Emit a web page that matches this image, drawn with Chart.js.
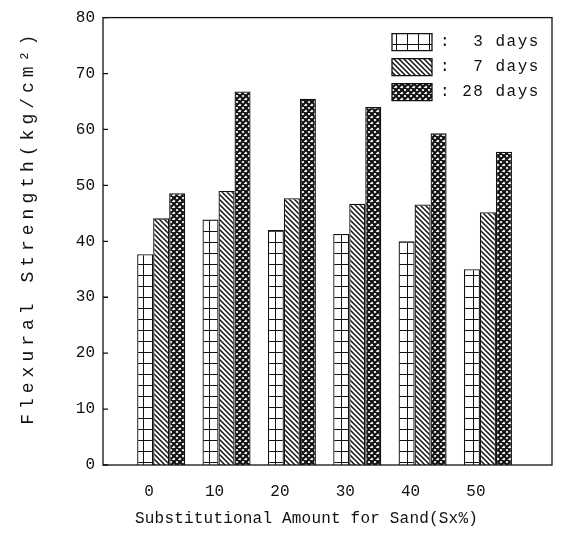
<!DOCTYPE html>
<html>
<head>
<meta charset="utf-8">
<script src="https://cdn.jsdelivr.net/npm/chart.js@4.4.1/dist/chart.umd.min.js"></script>
<style>
  html, body { margin: 0; padding: 0; background: #fff; }
  canvas { display: block; }
</style>
</head>
<body>
<canvas id="strength" width="566" height="535"></canvas>
<script>
// sand substitution (%) and flexural strength at each curing age (kg/cm2)
const amounts = [0, 10, 20, 30, 40, 50];
const days3 = [37.7, 43.9, 42.0, 41.3, 40.0, 35.0];
const days7 = [44.1, 49.0, 47.7, 46.7, 46.6, 45.2];
const days28 = [48.6, 66.8, 65.5, 64.0, 59.3, 56.0];
const ages = ['3 days', '7 days', '28 days'];
const legendText = [':  3 days', ':  7 days', ': 28 days'];

const MONO = "'Liberation Mono', 'DejaVu Sans Mono', monospace";
const INK = '#111';

const canvas = document.getElementById('strength');
const ctx = canvas.getContext('2d');

function makePattern(size, paint) {
  const c = document.createElement('canvas');
  c.width = size;
  c.height = size;
  const g = c.getContext('2d');
  g.fillStyle = '#fff';
  g.fillRect(0, 0, size, size);
  g.strokeStyle = INK;
  g.fillStyle = INK;
  paint(g, size);
  return ctx.createPattern(c, 'repeat');
}

// column of small boxes
const boxFill = makePattern(11, (g, s) => {
  g.fillRect(0, 0, s, 1);
  g.fillRect(0, 0, 1, s);
});

// "\" hatching
const hatchFill = makePattern(5, (g, s) => {
  g.lineWidth = 1.5;
  g.beginPath();
  g.moveTo(-1, -1); g.lineTo(s + 1, s + 1);
  g.moveTo(-1, s - 1); g.lineTo(1, s + 1);
  g.moveTo(s - 1, -1); g.lineTo(s + 1, 1);
  g.stroke();
});

// dense cross hatching
const crossFill = makePattern(6, (g, s) => {
  g.lineWidth = 2.2;
  g.beginPath();
  g.moveTo(-1, -1); g.lineTo(s + 1, s + 1);
  g.moveTo(-1, s + 1); g.lineTo(s + 1, -1);
  g.moveTo(-1, s - 1); g.lineTo(1, s + 1);
  g.moveTo(s - 1, -1); g.lineTo(s + 1, 1);
  g.moveTo(-1, 1); g.lineTo(1, -1);
  g.moveTo(s - 1, s + 1); g.lineTo(s + 1, s - 1);
  g.stroke();
});

const series = [days3, days7, days28];
const fills = [boxFill, hatchFill, crossFill];

// wider letter spacing for the typewriter-style titles and legend
const spacedText = {
  id: 'spacedText',
  afterLayout(chart) {
    const wrap = (obj, method, gap, dx, dy) => {
      if (!obj || obj['_spaced_' + method]) return;
      const base = obj[method].bind(obj);
      obj[method] = function (...args) {
        const c = chart.ctx;
        c.save();
        c.letterSpacing = gap;
        c.translate(dx, dy);
        base(...args);
        c.restore();
      };
      obj['_spaced_' + method] = true;
    };
    wrap(chart.scales.y, 'drawTitle', '5px', 0, -14);
    wrap(chart.scales.x, 'drawTitle', '0.2px', -21, 0);
    wrap(chart.legend, 'draw', '1.5px', 0, 0);
  }
};

// legend sits in the top right corner of the plot box
const legendCorner = {
  id: 'legendCorner',
  afterLayout(chart) {
    const lg = chart.legend;
    const a = chart.chartArea;
    lg.left = a.right - 168;
    lg.right = a.right;
    lg.top = a.top + 8;
    lg.bottom = a.bottom;
    lg.width = lg.right - lg.left;
    lg.height = lg.bottom - lg.top;
  }
};

const frame = {
  id: 'frame',
  beforeDraw(chart) {
    const c = chart.ctx;
    c.save();
    c.fillStyle = '#fff';
    c.fillRect(0, 0, chart.width, chart.height);
    c.restore();
  },
  afterDraw(chart) {
    const { ctx: c, chartArea: a, scales: { y } } = chart;
    c.save();
    c.strokeStyle = INK;
    c.lineWidth = 1.3;
    c.strokeRect(a.left, a.top, a.width, a.height);
    c.beginPath();
    y.ticks.forEach(t => {
      const py = y.getPixelForValue(t.value);
      c.moveTo(a.left, py);
      c.lineTo(a.left + 5, py);
    });
    c.stroke();
    c.restore();
  }
};

new Chart(canvas, {
  type: 'bar',
  data: {
    datasets: ages.map((age, i) => ({
      label: age,
      data: amounts.map((x, j) => ({ x, y: series[i][j] })),
      backgroundColor: fills[i],
      borderColor: INK,
      borderWidth: 1.3,
      categoryPercentage: 0.735,
      barPercentage: 1.0
    }))
  },
  options: {
    responsive: false,
    animation: false,
    layout: { padding: { top: 17, right: 14, bottom: 0, left: 0 } },
    plugins: {
      tooltip: { enabled: false },
      legend: {
        position: 'chartArea',
        align: 'start',
        labels: {
          boxWidth: 40,
          boxHeight: 17,
          padding: 8,
          color: INK,
          font: { family: MONO, size: 16 },
          generateLabels(chart) {
            const items = Chart.defaults.plugins.legend.labels.generateLabels(chart);
            items.forEach((it, i) => { it.text = legendText[i]; });
            return items;
          }
        }
      }
    },
    scales: {
      x: {
        type: 'linear',
        offset: false,
        min: -8.9,
        max: 59.8,
        afterBuildTicks(s) { s.ticks = amounts.map(v => ({ value: v })); },
        afterFit(s) { s.height = 70; },
        grid: { display: false, drawTicks: false, offset: false },
        border: { display: false },
        ticks: {
          padding: 17,
          labelOffset: -12,
          maxRotation: 0,
          color: INK,
          font: { family: MONO, size: 16 }
        },
        title: {
          display: true,
          text: 'Substitutional Amount for Sand(Sx%)',
          color: INK,
          font: { family: MONO, size: 16 },
          padding: { top: 0, bottom: 7 }
        }
      },
      y: {
        min: 0,
        max: 80,
        afterFit(s) { s.width = 103; },
        grid: { display: false, drawTicks: false },
        border: { display: false },
        ticks: {
          stepSize: 10,
          padding: 8,
          color: INK,
          font: { family: MONO, size: 16 }
        },
        title: {
          display: true,
          text: 'Flexural Strength(kg/cm²)',
          color: INK,
          font: { family: MONO, size: 18 },
          padding: { top: 17, bottom: 0 }
        }
      }
    }
  },
  plugins: [spacedText, legendCorner, frame]
});
</script>
</body>
</html>
